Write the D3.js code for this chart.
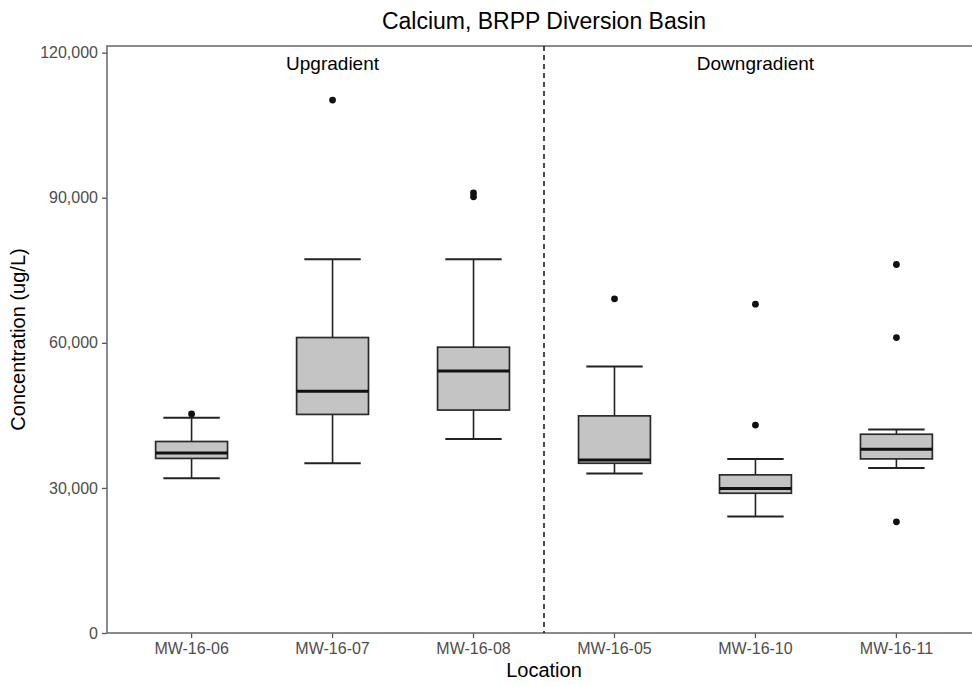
<!DOCTYPE html>
<html lang="en">
<head>
    <meta charset="UTF-8" />
    <title>Calcium, BRPP Diversion Basin</title>
    <script src="https://d3js.org/d3.v7.min.js"></script>
    <style>
        body { margin: 0; background: #fff; }
        svg { display: block; font-family: "Liberation Sans", Arial, sans-serif; }
    </style>
</head>
<body>
<svg id="chart" width="972" height="686"></svg>
<script>
// box stats (ug/L)
var locations = ["MW-16-06", "MW-16-07", "MW-16-08", "MW-16-05", "MW-16-10", "MW-16-11"];
var whiskerLow  = [32000, 35100, 40100, 33000, 24100, 34100];
var q1          = [36100, 45200, 46100, 35100, 28900, 36000];
var medians     = [37200, 50000, 54200, 35800, 29900, 38000];
var q3          = [39600, 61100, 59100, 44900, 32700, 41100];
var whiskerHigh = [44500, 77300, 77300, 55100, 36000, 42100];
var outliers    = [[45300], [110200], [90200, 91000], [69100], [43000, 68000], [23000, 61100, 76200]];
var groups      = [{ label: "Upgradient", at: "MW-16-07" }, { label: "Downgradient", at: "MW-16-10" }];
var yTicks      = [0, 30000, 60000, 90000, 120000];

var svg = d3.select("#chart");
var pLeft = 107, pRight = 981, pTop = 46, pBottom = 633;

var x = d3.scaleBand()
    .domain(locations)
    .range([pLeft, pRight])
    .paddingInner(0)
    .paddingOuter(0.1);
var step = x.bandwidth();
var cx = function(d){ return x(d) + step / 2 };

var y = d3.scaleLinear()
    .domain([0, 120000 * (pBottom - pTop) / (pBottom - 52.7)])
    .range([pBottom, pTop]);

// title
svg.append("text")
    .attr("x", (pLeft + pRight) / 2).attr("y", 29)
    .attr("text-anchor", "middle")
    .style("font-size", "23px")
    .text("Calcium, BRPP Diversion Basin");

// axes
var yAxis = svg.append("g")
    .attr("transform", "translate(" + pLeft + ",0)")
    .call(d3.axisLeft(y).tickValues(yTicks).tickSize(5).tickPadding(4).tickFormat(d3.format(",")));
var xAxis = svg.append("g")
    .attr("transform", "translate(0," + pBottom + ")")
    .call(d3.axisBottom(x).tickSize(5).tickPadding(5));
[yAxis, xAxis].forEach(function(g){
    g.select(".domain").remove();
    g.selectAll("line").attr("stroke", "#555").attr("stroke-width", 1.3);
    g.selectAll("text").attr("fill", "#4d4d4d").style("font-size", "16px").style("font-family", "Liberation Sans, Arial, sans-serif");
});

// panel border
svg.append("rect")
    .attr("x", pLeft).attr("y", pTop)
    .attr("width", pRight - pLeft).attr("height", pBottom - pTop)
    .attr("fill", "none").attr("stroke", "#6e6e6e").attr("stroke-width", 1.6);

// divider between up and down gradient
var divX = (cx(locations[2]) + cx(locations[3])) / 2;
svg.append("line")
    .attr("x1", divX).attr("x2", divX)
    .attr("y1", pTop).attr("y2", pBottom)
    .attr("stroke", "#111").attr("stroke-width", 1.5)
    .attr("stroke-dasharray", "5,4");

svg.selectAll(".grp")
    .data(groups)
    .enter().append("text")
    .attr("x", function(d){ return cx(d.at) })
    .attr("y", 70)
    .attr("text-anchor", "middle")
    .style("font-size", "19px")
    .text(function(d){ return d.label });

// boxes
var boxW = step * 0.51, capW = step * 0.4;
var box = svg.selectAll(".box")
    .data(locations)
    .enter().append("g").attr("class", "box");

box.append("line")
    .attr("x1", cx).attr("x2", cx)
    .attr("y1", function(d, i){ return y(whiskerLow[i]) })
    .attr("y2", function(d, i){ return y(whiskerHigh[i]) })
    .attr("stroke", "#222").attr("stroke-width", 1.6);
box.append("line")
    .attr("x1", function(d){ return cx(d) - capW / 2 })
    .attr("x2", function(d){ return cx(d) + capW / 2 })
    .attr("y1", function(d, i){ return y(whiskerLow[i]) })
    .attr("y2", function(d, i){ return y(whiskerLow[i]) })
    .attr("stroke", "#222").attr("stroke-width", 2);
box.append("line")
    .attr("x1", function(d){ return cx(d) - capW / 2 })
    .attr("x2", function(d){ return cx(d) + capW / 2 })
    .attr("y1", function(d, i){ return y(whiskerHigh[i]) })
    .attr("y2", function(d, i){ return y(whiskerHigh[i]) })
    .attr("stroke", "#222").attr("stroke-width", 2);
box.append("rect")
    .attr("x", function(d){ return cx(d) - boxW / 2 })
    .attr("width", boxW)
    .attr("y", function(d, i){ return y(q3[i]) })
    .attr("height", function(d, i){ return y(q1[i]) - y(q3[i]) })
    .attr("fill", "#c4c4c4").attr("stroke", "#2a2a2a").attr("stroke-width", 1.7);
box.append("line")
    .attr("x1", function(d){ return cx(d) - boxW / 2 })
    .attr("x2", function(d){ return cx(d) + boxW / 2 })
    .attr("y1", function(d, i){ return y(medians[i]) })
    .attr("y2", function(d, i){ return y(medians[i]) })
    .attr("stroke", "#111").attr("stroke-width", 3);

box.selectAll("circle")
    .data(function(d, i){ return outliers[i].map(function(v){ return { loc: d, v: v } }) })
    .enter().append("circle")
    .attr("cx", function(d){ return cx(d.loc) })
    .attr("cy", function(d){ return y(d.v) })
    .attr("r", 3.4)
    .attr("fill", "#111");

// axis titles
svg.append("text")
    .attr("x", (pLeft + pRight) / 2).attr("y", 677)
    .attr("text-anchor", "middle")
    .style("font-size", "20px")
    .text("Location");
svg.append("text")
    .attr("transform", "translate(25," + (pTop + pBottom) / 2 + ") rotate(-90)")
    .attr("text-anchor", "middle")
    .style("font-size", "20px")
    .text("Concentration (ug/L)");
</script>
</body>
</html>
